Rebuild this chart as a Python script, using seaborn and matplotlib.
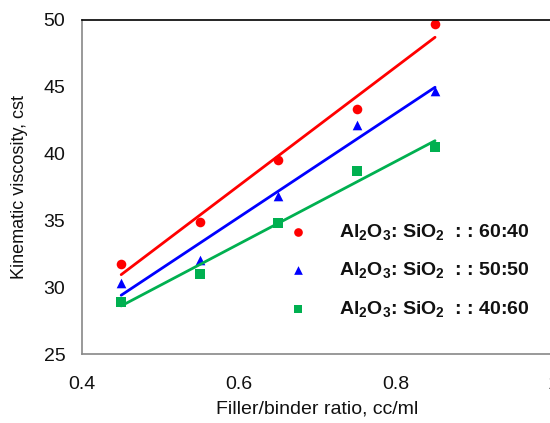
import numpy as np
import pandas as pd
import matplotlib
matplotlib.use("Agg")
import matplotlib.pyplot as plt
import seaborn as sns

# data
ratio = [0.45, 0.55, 0.65, 0.75, 0.85]
visc_60_40 = [31.7, 34.9, 39.5, 43.3, 49.7]
visc_50_50 = [30.3, 32.0, 36.8, 42.1, 44.7]
visc_40_60 = [28.9, 31.0, 34.8, 38.7, 40.5]
labels = ["Al$_2$O$_3$: SiO$_2$  : : 60:40",
          "Al$_2$O$_3$: SiO$_2$  : : 50:50",
          "Al$_2$O$_3$: SiO$_2$  : : 40:60"]

sns.set_style("white")
plt.rcParams['font.family'] = ['Liberation Sans', 'DejaVu Sans']
plt.rcParams['mathtext.fontset'] = 'custom'
plt.rcParams['mathtext.rm'] = 'Liberation Sans:bold'
plt.rcParams['mathtext.it'] = 'Liberation Sans:bold'
plt.rcParams['mathtext.bf'] = 'Liberation Sans:bold'
plt.rcParams['text.color'] = '#111111'
plt.rcParams['axes.labelcolor'] = '#111111'
plt.rcParams['xtick.labelcolor'] = '#111111'
plt.rcParams['ytick.labelcolor'] = '#111111'

df = pd.DataFrame({
    "ratio": ratio * 3,
    "visc": visc_60_40 + visc_50_50 + visc_40_60,
    "mix": [labels[0]] * 5 + [labels[1]] * 5 + [labels[2]] * 5,
})

colors = ["#ff0000", "#0000ff", "#00b050"]
markers = ["o", "^", "s"]

fig = plt.figure(figsize=(5.5, 4.23), dpi=100)
ax = fig.add_axes([0.149, 0.163, 0.856, 0.79])

for lab, c, m in zip(labels, colors, markers):
    sub = df[df["mix"] == lab]
    sns.regplot(data=sub, x="ratio", y="visc", ax=ax, ci=None, truncate=True,
                color=c, marker=m, label=lab,
                scatter_kws={"s": 48, "linewidths": 0, "alpha": 1},
                line_kws={"lw": 2})

ax.set_xlim(0.4, 1.0)
ax.set_ylim(25, 50)
ax.set_xticks([0.4, 0.6, 0.8, 1.0])
ax.set_xticklabels(["0.4", "0.6", "0.8", "1"])
ax.set_yticks(np.arange(25, 51, 5))
ax.tick_params(axis="both", direction="out", length=5, width=1,
               color="#888888", labelsize=14, pad=7)
ax.tick_params(axis="x", pad=11)
for s in ["left", "bottom"]:
    ax.spines[s].set_color("#888888")
    ax.spines[s].set_linewidth(1.2)
ax.spines["top"].set_color("black")
ax.spines["top"].set_linewidth(1.2)
ax.spines["right"].set_visible(False)

ax.set_xlabel("Filler/binder ratio, cc/ml", fontsize=14, labelpad=5)
ax.set_ylabel("Kinematic viscosity, cst", fontsize=13, labelpad=11)

ax.legend(loc="center left", bbox_to_anchor=(0.398, 0.251), frameon=False,
          prop={"size": 14, "weight": "bold"}, handletextpad=1.5,
          labelspacing=0.95, markerscale=0.9, handlelength=1.2)

fig.savefig("out.png", dpi=100)
